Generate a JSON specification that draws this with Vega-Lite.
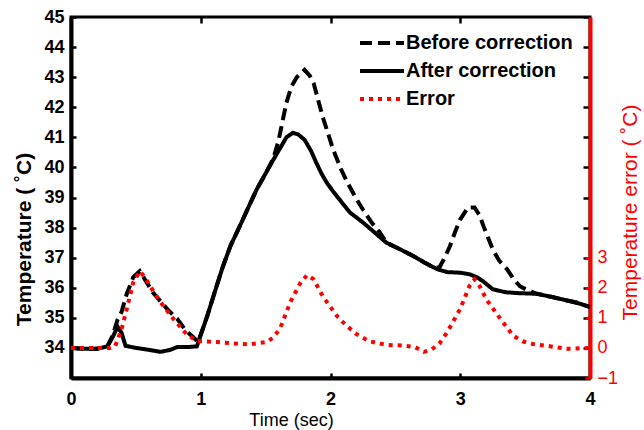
{
  "$schema": "https://vega.github.io/schema/vega-lite/v6.json",
  "width": 519,
  "height": 361,
  "autosize": "none",
  "padding": {"left": 71, "top": 17, "right": 54, "bottom": 52},
  "background": "white",
  "config": {
    "font": "Liberation Sans",
    "view": {"stroke": "black", "strokeWidth": 3},
    "axis": {"grid": false, "labelFlush": false, "labelOverlap": false},
    "legend": {
      "symbolType": "M-1.6,0H1.6",
      "symbolSize": 756,
      "symbolStrokeWidth": 4,
      "labelFontSize": 20,
      "labelFontWeight": "bold",
      "labelColor": "black",
      "labelOffset": 8,
      "rowPadding": 2,
      "labelLimit": 300
    }
  },
  "datasets": {
    "temp": [
      {"t": 0.00, "series": "After correction", "v": 34.00},
      {"t": 0.10, "series": "After correction", "v": 33.97},
      {"t": 0.20, "series": "After correction", "v": 33.97},
      {"t": 0.28, "series": "After correction", "v": 34.05},
      {"t": 0.32, "series": "After correction", "v": 34.35},
      {"t": 0.36, "series": "After correction", "v": 34.70},
      {"t": 0.39, "series": "After correction", "v": 34.50},
      {"t": 0.42, "series": "After correction", "v": 34.07},
      {"t": 0.50, "series": "After correction", "v": 34.00},
      {"t": 0.58, "series": "After correction", "v": 33.95},
      {"t": 0.69, "series": "After correction", "v": 33.87},
      {"t": 0.76, "series": "After correction", "v": 33.93},
      {"t": 0.82, "series": "After correction", "v": 34.03},
      {"t": 0.90, "series": "After correction", "v": 34.03},
      {"t": 0.97, "series": "After correction", "v": 34.05},
      {"t": 1.05, "series": "After correction", "v": 35.06},
      {"t": 1.10, "series": "After correction", "v": 35.75},
      {"t": 1.17, "series": "After correction", "v": 36.70},
      {"t": 1.23, "series": "After correction", "v": 37.40},
      {"t": 1.30, "series": "After correction", "v": 38.04},
      {"t": 1.37, "series": "After correction", "v": 38.70},
      {"t": 1.43, "series": "After correction", "v": 39.26},
      {"t": 1.50, "series": "After correction", "v": 39.80},
      {"t": 1.56, "series": "After correction", "v": 40.26},
      {"t": 1.62, "series": "After correction", "v": 40.70},
      {"t": 1.66, "series": "After correction", "v": 41.00},
      {"t": 1.71, "series": "After correction", "v": 41.15},
      {"t": 1.75, "series": "After correction", "v": 41.10},
      {"t": 1.80, "series": "After correction", "v": 40.92},
      {"t": 1.85, "series": "After correction", "v": 40.55},
      {"t": 1.89, "series": "After correction", "v": 40.16},
      {"t": 1.93, "series": "After correction", "v": 39.80},
      {"t": 1.97, "series": "After correction", "v": 39.50},
      {"t": 2.02, "series": "After correction", "v": 39.20},
      {"t": 2.07, "series": "After correction", "v": 38.93},
      {"t": 2.15, "series": "After correction", "v": 38.50},
      {"t": 2.25, "series": "After correction", "v": 38.17},
      {"t": 2.35, "series": "After correction", "v": 37.80},
      {"t": 2.43, "series": "After correction", "v": 37.50},
      {"t": 2.55, "series": "After correction", "v": 37.25},
      {"t": 2.64, "series": "After correction", "v": 37.05},
      {"t": 2.72, "series": "After correction", "v": 36.85},
      {"t": 2.82, "series": "After correction", "v": 36.62},
      {"t": 2.90, "series": "After correction", "v": 36.52},
      {"t": 3.00, "series": "After correction", "v": 36.50},
      {"t": 3.07, "series": "After correction", "v": 36.45},
      {"t": 3.13, "series": "After correction", "v": 36.35},
      {"t": 3.18, "series": "After correction", "v": 36.20},
      {"t": 3.25, "series": "After correction", "v": 35.95},
      {"t": 3.35, "series": "After correction", "v": 35.85},
      {"t": 3.45, "series": "After correction", "v": 35.82},
      {"t": 3.59, "series": "After correction", "v": 35.80},
      {"t": 3.70, "series": "After correction", "v": 35.70},
      {"t": 3.80, "series": "After correction", "v": 35.60},
      {"t": 3.90, "series": "After correction", "v": 35.50},
      {"t": 4.00, "series": "After correction", "v": 35.36},

      {"t": 0.00, "series": "Before correction", "v": 34.00},
      {"t": 0.10, "series": "Before correction", "v": 33.97},
      {"t": 0.20, "series": "Before correction", "v": 33.97},
      {"t": 0.28, "series": "Before correction", "v": 34.05},
      {"t": 0.32, "series": "Before correction", "v": 34.40},
      {"t": 0.36, "series": "Before correction", "v": 34.95},
      {"t": 0.39, "series": "Before correction", "v": 35.20},
      {"t": 0.43, "series": "Before correction", "v": 35.80},
      {"t": 0.48, "series": "Before correction", "v": 36.35},
      {"t": 0.53, "series": "Before correction", "v": 36.55},
      {"t": 0.58, "series": "Before correction", "v": 36.20},
      {"t": 0.63, "series": "Before correction", "v": 35.85},
      {"t": 0.69, "series": "Before correction", "v": 35.55},
      {"t": 0.75, "series": "Before correction", "v": 35.25},
      {"t": 0.82, "series": "Before correction", "v": 34.96},
      {"t": 0.88, "series": "Before correction", "v": 34.60},
      {"t": 0.94, "series": "Before correction", "v": 34.36},
      {"t": 0.98, "series": "Before correction", "v": 34.20},
      {"t": 1.05, "series": "Before correction", "v": 35.06},
      {"t": 1.10, "series": "Before correction", "v": 35.75},
      {"t": 1.17, "series": "Before correction", "v": 36.70},
      {"t": 1.23, "series": "Before correction", "v": 37.40},
      {"t": 1.30, "series": "Before correction", "v": 38.04},
      {"t": 1.37, "series": "Before correction", "v": 38.70},
      {"t": 1.43, "series": "Before correction", "v": 39.26},
      {"t": 1.50, "series": "Before correction", "v": 39.80},
      {"t": 1.56, "series": "Before correction", "v": 40.30},
      {"t": 1.60, "series": "Before correction", "v": 40.90},
      {"t": 1.66, "series": "Before correction", "v": 42.15},
      {"t": 1.70, "series": "Before correction", "v": 42.70},
      {"t": 1.74, "series": "Before correction", "v": 43.00},
      {"t": 1.80, "series": "Before correction", "v": 43.24},
      {"t": 1.84, "series": "Before correction", "v": 43.05},
      {"t": 1.87, "series": "Before correction", "v": 42.80},
      {"t": 1.94, "series": "Before correction", "v": 41.68},
      {"t": 2.02, "series": "Before correction", "v": 40.60},
      {"t": 2.08, "series": "Before correction", "v": 39.95},
      {"t": 2.13, "series": "Before correction", "v": 39.50},
      {"t": 2.20, "series": "Before correction", "v": 38.95},
      {"t": 2.25, "series": "Before correction", "v": 38.60},
      {"t": 2.32, "series": "Before correction", "v": 38.15},
      {"t": 2.38, "series": "Before correction", "v": 37.84},
      {"t": 2.43, "series": "Before correction", "v": 37.50},
      {"t": 2.55, "series": "Before correction", "v": 37.25},
      {"t": 2.64, "series": "Before correction", "v": 37.05},
      {"t": 2.72, "series": "Before correction", "v": 36.85},
      {"t": 2.80, "series": "Before correction", "v": 36.66},
      {"t": 2.84, "series": "Before correction", "v": 36.68},
      {"t": 2.88, "series": "Before correction", "v": 37.00},
      {"t": 2.92, "series": "Before correction", "v": 37.38},
      {"t": 2.96, "series": "Before correction", "v": 37.85},
      {"t": 3.00, "series": "Before correction", "v": 38.27},
      {"t": 3.06, "series": "Before correction", "v": 38.67},
      {"t": 3.11, "series": "Before correction", "v": 38.67},
      {"t": 3.15, "series": "Before correction", "v": 38.40},
      {"t": 3.18, "series": "Before correction", "v": 38.04},
      {"t": 3.25, "series": "Before correction", "v": 37.28},
      {"t": 3.30, "series": "Before correction", "v": 36.90},
      {"t": 3.36, "series": "Before correction", "v": 36.62},
      {"t": 3.41, "series": "Before correction", "v": 36.30},
      {"t": 3.46, "series": "Before correction", "v": 36.05},
      {"t": 3.52, "series": "Before correction", "v": 35.92},
      {"t": 3.56, "series": "Before correction", "v": 35.85},
      {"t": 3.59, "series": "Before correction", "v": 35.80},
      {"t": 3.70, "series": "Before correction", "v": 35.70},
      {"t": 3.80, "series": "Before correction", "v": 35.60},
      {"t": 3.90, "series": "Before correction", "v": 35.50},
      {"t": 4.00, "series": "Before correction", "v": 35.36}
    ],
    "err": [
      {"t": 0.00, "series": "Error", "v": 0.00},
      {"t": 0.30, "series": "Error", "v": 0.00},
      {"t": 0.34, "series": "Error", "v": 0.05},
      {"t": 0.39, "series": "Error", "v": 0.63},
      {"t": 0.43, "series": "Error", "v": 1.30},
      {"t": 0.48, "series": "Error", "v": 2.18},
      {"t": 0.53, "series": "Error", "v": 2.55},
      {"t": 0.57, "series": "Error", "v": 2.35},
      {"t": 0.61, "series": "Error", "v": 2.05},
      {"t": 0.69, "series": "Error", "v": 1.52},
      {"t": 0.79, "series": "Error", "v": 0.96},
      {"t": 0.89, "series": "Error", "v": 0.46},
      {"t": 0.97, "series": "Error", "v": 0.23},
      {"t": 1.12, "series": "Error", "v": 0.20},
      {"t": 1.25, "series": "Error", "v": 0.15},
      {"t": 1.38, "series": "Error", "v": 0.12},
      {"t": 1.51, "series": "Error", "v": 0.20},
      {"t": 1.56, "series": "Error", "v": 0.35},
      {"t": 1.61, "series": "Error", "v": 0.63},
      {"t": 1.69, "series": "Error", "v": 1.52},
      {"t": 1.77, "series": "Error", "v": 2.18},
      {"t": 1.82, "series": "Error", "v": 2.42},
      {"t": 1.87, "series": "Error", "v": 2.28},
      {"t": 1.94, "series": "Error", "v": 1.72},
      {"t": 2.05, "series": "Error", "v": 1.06},
      {"t": 2.12, "series": "Error", "v": 0.75},
      {"t": 2.20, "series": "Error", "v": 0.46},
      {"t": 2.30, "series": "Error", "v": 0.22},
      {"t": 2.43, "series": "Error", "v": 0.10},
      {"t": 2.55, "series": "Error", "v": 0.08},
      {"t": 2.65, "series": "Error", "v": 0.03},
      {"t": 2.72, "series": "Error", "v": -0.13},
      {"t": 2.78, "series": "Error", "v": -0.05},
      {"t": 2.84, "series": "Error", "v": 0.15},
      {"t": 2.90, "series": "Error", "v": 0.53},
      {"t": 3.00, "series": "Error", "v": 1.30},
      {"t": 3.07, "series": "Error", "v": 2.05},
      {"t": 3.11, "series": "Error", "v": 2.28},
      {"t": 3.15, "series": "Error", "v": 2.05},
      {"t": 3.20, "series": "Error", "v": 1.62},
      {"t": 3.31, "series": "Error", "v": 0.96},
      {"t": 3.41, "series": "Error", "v": 0.40},
      {"t": 3.48, "series": "Error", "v": 0.22},
      {"t": 3.56, "series": "Error", "v": 0.13},
      {"t": 3.70, "series": "Error", "v": 0.05},
      {"t": 3.82, "series": "Error", "v": -0.03},
      {"t": 4.00, "series": "Error", "v": 0.00}
    ]
  },
  "layer": [
    {
      "data": {"name": "temp"},
      "mark": {"type": "line", "opacity": 0},
      "encoding": {
        "x": {
          "field": "t", "type": "quantitative",
          "scale": {"domain": [0, 4], "nice": false, "zero": false},
          "axis": {
            "orient": "top",
            "values": [0, 1, 2, 3, 4],
            "domain": false, "labels": false, "title": null,
            "tickColor": "black", "tickWidth": 2.5, "tickSize": -6
          }
        },
        "y": {
          "field": "v", "type": "quantitative",
          "scale": {"domain": [33, 45], "nice": false, "zero": false},
          "axis": {
            "orient": "right",
            "values": [34, 35, 36, 37, 38, 39, 40, 41, 42, 43, 44, 45],
            "domain": false, "labels": false, "title": null,
            "tickColor": "black", "tickWidth": 2.5, "tickSize": -7
          }
        }
      }
    },
    {
      "data": {"name": "temp"},
      "mark": {"type": "line", "strokeWidth": 4, "clip": true},
      "encoding": {
        "x": {
          "field": "t", "type": "quantitative",
          "scale": {"domain": [0, 4], "nice": false, "zero": false},
          "axis": {
            "orient": "bottom",
            "values": [0, 1, 2, 3, 4],
            "format": "d",
            "domainColor": "black", "domainWidth": 4,
            "tickColor": "black", "tickWidth": 2.5, "tickSize": -5,
            "labelFontSize": 18, "labelFontWeight": "bold", "labelColor": "black",
            "labelPadding": 17,
            "title": "Time (sec)",
            "titleFontSize": 18, "titleFontWeight": "normal", "titleColor": "black",
            "titleX": 220, "titleY": 47, "titleBaseline": "alphabetic", "titleAlign": "center"
          }
        },
        "y": {
          "field": "v", "type": "quantitative",
          "scale": {"domain": [33, 45], "nice": false, "zero": false},
          "axis": {
            "orient": "left",
            "values": [34, 35, 36, 37, 38, 39, 40, 41, 42, 43, 44, 45],
            "domainColor": "black", "domainWidth": 4,
            "tickColor": "black", "tickWidth": 2.5, "tickSize": -5,
            "labelFontSize": 18, "labelFontWeight": "bold", "labelColor": "black",
            "labelPadding": 12,
            "title": "Temperature ( ˚C)",
            "titleFontSize": 21, "titleFontWeight": "bold", "titleColor": "black",
            "titleAngle": 270, "titleX": -47, "titleY": 222,
            "titleBaseline": "middle", "titleAlign": "center"
          }
        },
        "color": {
          "field": "series", "type": "nominal",
          "scale": {"domain": ["Before correction", "After correction", "Error"], "range": ["black", "black", "red"]},
          "legend": {"title": null, "orient": "none", "legendX": 295, "legendY": 10}
        },
        "strokeDash": {
          "field": "series", "type": "nominal",
          "scale": {"domain": ["Before correction", "After correction", "Error"], "range": [[12, 6], [1, 0], [4, 5]]},
          "legend": {"title": null, "orient": "none", "legendX": 295, "legendY": 10}
        }
      }
    },
    {
      "data": {"name": "err"},
      "mark": {"type": "line", "strokeWidth": 4, "clip": true},
      "encoding": {
        "x": {"field": "t", "type": "quantitative", "axis": null},
        "y": {
          "field": "v", "type": "quantitative",
          "scale": {"domain": [-1, 11], "nice": false, "zero": false},
          "axis": {
            "orient": "right",
            "values": [-1, 0, 1, 2, 3],
            "domainColor": "red", "domainWidth": 4,
            "tickColor": "red", "tickWidth": 2.5, "tickSize": -5,
            "labelFontSize": 18, "labelFontWeight": "normal", "labelColor": "red",
            "labelPadding": 12,
            "title": "Temperature error ( ˚C)",
            "titleFontSize": 21, "titleFontWeight": "normal", "titleColor": "red",
            "titleAngle": 270, "titleX": 40, "titleY": 195,
            "titleBaseline": "middle", "titleAlign": "center"
          }
        },
        "color": {"field": "series", "type": "nominal"},
        "strokeDash": {"field": "series", "type": "nominal"}
      }
    }
  ],
  "resolve": {"scale": {"y": "independent"}, "axis": {"x": "independent"}}
}
